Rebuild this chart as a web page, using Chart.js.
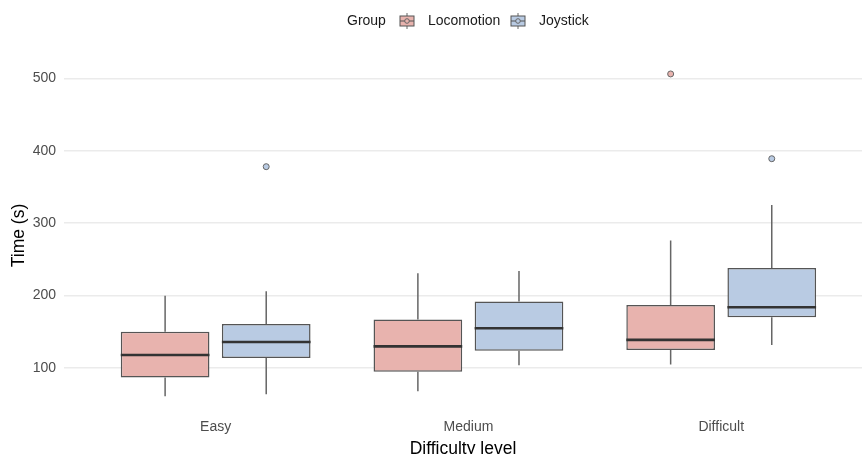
<!DOCTYPE html>
<html>
<head>
<meta charset="utf-8">
<script src="https://cdn.jsdelivr.net/npm/chart.js@4.4.1/dist/chart.umd.min.js"></script>
<style>
    html, body { margin: 0; padding: 0; background: #fff; }
    #wrap { width: 862px; height: 454px; }
</style>
</head>
<body>
<div id="wrap"><canvas id="boxChart"></canvas></div>
<script>
// Categories and box statistics
const categories = ['Easy', 'Medium', 'Difficult'];
const groups = ['Locomotion', 'Joystick'];

const locoLow = [61, 68, 105];
const locoQ1 = [87, 95, 125];
const locoMedian = [118, 130, 139];
const locoQ3 = [150, 167, 187];
const locoHigh = [200, 231, 276];
const locoOutliers = [[], [], [506]];

const joyLow = [64, 104, 132];
const joyQ1 = [114, 124, 170];
const joyMedian = [136, 155, 184];
const joyQ3 = [161, 192, 238];
const joyHigh = [206, 234, 325];
const joyOutliers = [[378], [], [389]];

const yTicks = [100, 200, 300, 400, 500];

const FONT = "'Liberation Sans', Arial, sans-serif";
const fills = ['#E8B3AE', '#B9CBE3'];

// Build one floating-bar dataset per group
function makeDataset(label, q1, q3, low, med, high, outliers, color) {
    return {
        label: label,
        data: categories.map((c, i) => ({ x: i + 1, y: [q1[i], q3[i]] })),
        backgroundColor: color,
        borderColor: '#555555',
        borderWidth: 1.5,
        borderSkipped: false,
        categoryPercentage: 0.8,
        barPercentage: 0.877,
        stats: { low: low, med: med, high: high, outliers: outliers }
    };
}

// Whiskers behind the boxes, medians and outliers on top
const boxplotPlugin = {
    id: 'boxplotParts',
    beforeDatasetsDraw(chart) {
        const ctx = chart.ctx;
        const y = chart.scales.y;
        chart.data.datasets.forEach((ds, di) => {
            chart.getDatasetMeta(di).data.forEach((bar, i) => {
                ctx.save();
                ctx.strokeStyle = '#666666';
                ctx.lineWidth = 1.5;
                ctx.beginPath();
                ctx.moveTo(bar.x, y.getPixelForValue(ds.stats.low[i]));
                ctx.lineTo(bar.x, y.getPixelForValue(ds.data[i].y[0]));
                ctx.moveTo(bar.x, y.getPixelForValue(ds.data[i].y[1]));
                ctx.lineTo(bar.x, y.getPixelForValue(ds.stats.high[i]));
                ctx.stroke();
                ctx.restore();
            });
        });
    },
    afterDatasetsDraw(chart) {
        const ctx = chart.ctx;
        const y = chart.scales.y;
        chart.data.datasets.forEach((ds, di) => {
            chart.getDatasetMeta(di).data.forEach((bar, i) => {
                const half = bar.width / 2;
                const my = y.getPixelForValue(ds.stats.med[i]);
                ctx.save();
                ctx.strokeStyle = '#333333';
                ctx.lineWidth = 2.6;
                ctx.beginPath();
                ctx.moveTo(bar.x - half, my);
                ctx.lineTo(bar.x + half, my);
                ctx.stroke();
                ds.stats.outliers[i].forEach(v => {
                    ctx.beginPath();
                    ctx.arc(bar.x, y.getPixelForValue(v), 3, 0, Math.PI * 2);
                    ctx.fillStyle = ds.backgroundColor;
                    ctx.fill();
                    ctx.strokeStyle = '#666666';
                    ctx.lineWidth = 1;
                    ctx.stroke();
                });
                ctx.restore();
            });
        });
    }
};

// ggplot-style legend: "Group" title followed by boxplot keys
const legendPlugin = {
    id: 'groupLegend',
    afterDraw(chart) {
        const ctx = chart.ctx;
        const cy = 21;
        ctx.save();
        ctx.font = '14px ' + FONT;
        ctx.textBaseline = 'middle';
        ctx.fillStyle = '#1A1A1A';
        ctx.fillText('Group', 347, cy);
        const keyX = [400, 511];
        chart.data.datasets.forEach((ds, di) => {
            const kx = keyX[di];
            // whisker
            ctx.strokeStyle = '#666666';
            ctx.lineWidth = 1;
            ctx.beginPath();
            ctx.moveTo(kx + 7, cy - 8);
            ctx.lineTo(kx + 7, cy + 8);
            ctx.stroke();
            // box
            ctx.fillStyle = ds.backgroundColor;
            ctx.fillRect(kx, cy - 5, 14, 10);
            ctx.strokeStyle = '#555555';
            ctx.strokeRect(kx, cy - 5, 14, 10);
            // median
            ctx.beginPath();
            ctx.moveTo(kx, cy);
            ctx.lineTo(kx + 14, cy);
            ctx.stroke();
            // point
            ctx.beginPath();
            ctx.arc(kx + 7, cy, 2.3, 0, Math.PI * 2);
            ctx.fillStyle = ds.backgroundColor;
            ctx.fill();
            ctx.strokeStyle = '#666666';
            ctx.stroke();
            ctx.fillStyle = '#1A1A1A';
            ctx.fillText(ds.label, kx + 28, cy);
        });
        ctx.restore();
    }
};

const chart = new Chart(document.getElementById('boxChart'), {
    type: 'bar',
    data: {
        datasets: [
            makeDataset(groups[0], locoQ1, locoQ3, locoLow, locoMedian, locoHigh, locoOutliers, fills[0]),
            makeDataset(groups[1], joyQ1, joyQ3, joyLow, joyMedian, joyHigh, joyOutliers, fills[1])
        ]
    },
    options: {
        responsive: true,
        maintainAspectRatio: false,
        animation: false,
        layout: { padding: { top: 58, right: 0, left: 9, bottom: 0 } },
        plugins: {
            legend: { display: false },
            tooltip: { enabled: false }
        },
        scales: {
            x: {
                type: 'linear',
                min: 0.4,
                max: 3.557,
                offset: false,
                afterBuildTicks: scale => {
                    scale.ticks = categories.map((c, i) => ({ value: i + 1 }));
                },
                ticks: {
                    callback: v => categories[v - 1],
                    color: '#4D4D4D',
                    font: { family: FONT, size: 14 },
                    padding: 6,
                    maxRotation: 0
                },
                grid: { display: false, drawTicks: false },
                border: { display: false },
                title: {
                    display: true,
                    text: 'Difficulty level',
                    color: '#000000',
                    font: { family: FONT, size: 17.5 },
                    padding: { top: 0, bottom: -6 }
                },
                afterFit: scale => { scale.height = 41; }
            },
            y: {
                min: 38,
                max: 528,
                afterBuildTicks: scale => {
                    scale.ticks = yTicks.map(v => ({ value: v }));
                },
                ticks: {
                    color: '#4D4D4D',
                    font: { family: FONT, size: 14 },
                    padding: 8
                },
                grid: { color: '#EBEBEB', lineWidth: 1.5, drawTicks: false },
                border: { display: false },
                title: {
                    display: true,
                    text: 'Time (s)',
                    color: '#000000',
                    font: { family: FONT, size: 17.5 },
                    padding: { top: 0, bottom: 4 }
                },
                afterFit: scale => { scale.width = 55; }
            }
        }
    },
    plugins: [boxplotPlugin, legendPlugin]
});
</script>
</body>
</html>
